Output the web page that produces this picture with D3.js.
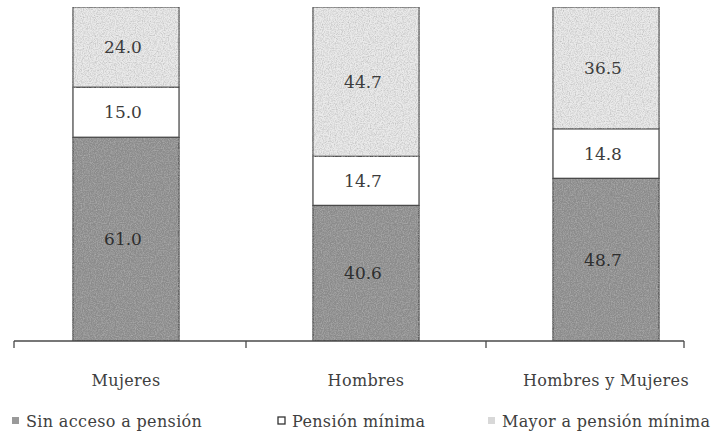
<!DOCTYPE html>
<html>
<head>
<meta charset="utf-8">
<script src="https://cdn.jsdelivr.net/npm/d3@7/dist/d3.min.js"></script>
<style>
  html, body { margin: 0; padding: 0; background: #ffffff; }
  svg { display: block; }
  text { font-family: "DejaVu Serif", serif; fill: #404040; }
</style>
</head>
<body>
<svg id="chart" width="724" height="431"></svg>
<script>
// Categories and the three stacked shares (percent of each group)
const categories = ["Mujeres", "Hombres", "Hombres y Mujeres"];
const seriesNames = ["Sin acceso a pensión", "Pensión mínima", "Mayor a pensión mínima"];
const sinAcceso = [61.0, 40.6, 48.7];
const pensionMinima = [15.0, 14.7, 14.8];
const mayorMinima = [24.0, 44.7, 36.5];
const seriesColors = ["#8b8b8b", "#ffffff", "#eaeaea"];

const svg = d3.select("#chart");

// Film-grain texture for the shaded segments
const defs = svg.append("defs");
const grain = defs.append("filter").attr("id", "grain")
  .attr("x", 0).attr("y", 0).attr("width", 1).attr("height", 1);
grain.append("feTurbulence").attr("type", "fractalNoise")
  .attr("baseFrequency", 0.85).attr("numOctaves", 2).attr("seed", 4).attr("result", "noise");
grain.append("feColorMatrix").attr("in", "noise").attr("type", "matrix")
  .attr("values", "0 0 0 0 0.45  0 0 0 0 0.45  0 0 0 0 0.45  0 0 0 -1.6 1.0")
  .attr("result", "specks");
grain.append("feComposite").attr("in", "specks").attr("in2", "SourceGraphic")
  .attr("operator", "in").attr("result", "specksIn");
grain.append("feMerge").selectAll("feMergeNode")
  .data(["SourceGraphic", "specksIn"]).join("feMergeNode").attr("in", d => d);

const x = d3.scaleBand()
  .domain(categories)
  .range([6, 726])
  .paddingInner(0.558)
  .paddingOuter(0.279);

const y = d3.scaleLinear().domain([0, 100]).range([341, 7]);

const rows = categories.map((c, i) => ({
  cat: c,
  "Sin acceso a pensión": sinAcceso[i],
  "Pensión mínima": pensionMinima[i],
  "Mayor a pensión mínima": mayorMinima[i]
}));
const stacked = d3.stack().keys(seriesNames)(rows);

const color = d3.scaleOrdinal().domain(seriesNames).range(seriesColors);

const layers = svg.append("g").selectAll("g")
  .data(stacked).join("g");

layers.selectAll("rect")
  .data(s => s.map(d => ({ key: s.key, d })))
  .join("rect")
  .attr("x", o => x(o.d.data.cat))
  .attr("width", x.bandwidth())
  .attr("y", o => y(o.d[1]))
  .attr("height", o => y(o.d[0]) - y(o.d[1]))
  .attr("fill", o => color(o.key))
  .attr("filter", o => o.key === "Pensión mínima" ? null : "url(#grain)")
  .attr("stroke", "#4a4a4a")
  .attr("stroke-width", 1.3);

// Value labels centred in each segment
layers.selectAll("text")
  .data(s => s.map(d => ({ key: s.key, d })))
  .join("text")
  .attr("x", o => x(o.d.data.cat) + x.bandwidth() / 2 - 3)
  .attr("y", o => (y(o.d[0]) + y(o.d[1])) / 2)
  .attr("dy", "0.36em")
  .attr("text-anchor", "middle")
  .attr("font-size", 17)
  .style("fill", o => o.key === "Sin acceso a pensión" ? "#2e2e2e" : "#3c3c3c")
  .text(o => (o.d[1] - o.d[0]).toFixed(1));

// Category axis: baseline with tick marks between groups
const axisLeft = 14, axisRight = 684;
const step = x.step();
const tickXs = [axisLeft]
  .concat(categories.slice(1).map(c => x(c) - x.paddingInner() * step / 2))
  .concat([axisRight]);
const axisG = svg.append("g");
axisG.append("line")
  .attr("x1", axisLeft).attr("x2", axisRight)
  .attr("y1", y(0)).attr("y2", y(0))
  .attr("stroke", "#4a4a4a").attr("stroke-width", 1.3);
axisG.selectAll("line.tick").data(tickXs).join("line")
  .attr("class", "tick")
  .attr("x1", d => d).attr("x2", d => d)
  .attr("y1", y(0)).attr("y2", y(0) + 7)
  .attr("stroke", "#4a4a4a").attr("stroke-width", 1.3);

axisG.selectAll("text").data(categories).join("text")
  .attr("x", d => x(d) + x.bandwidth() / 2)
  .attr("y", 380)
  .attr("dy", "0.35em")
  .attr("text-anchor", "middle")
  .attr("font-size", 16)
  .attr("letter-spacing", 0.35)
  .text(d => d);

// Legend
const legendX = [12, 278, 488];
const legend = svg.append("g").selectAll("g")
  .data(seriesNames).join("g")
  .attr("transform", (d, i) => `translate(${legendX[i]},421)`);
legend.append("rect")
  .attr("x", 0).attr("y", -4)
  .attr("width", 7).attr("height", 7)
  .attr("fill", (d, i) => i === 0 ? "#9a9a9a" : i === 1 ? "#ffffff" : "#d8d8d8")
  .attr("stroke", (d, i) => i === 1 ? "#333" : "none")
  .attr("stroke-width", 1.3);
legend.append("text")
  .attr("x", 14).attr("y", 0)
  .attr("dy", "0.35em")
  .attr("font-size", 16)
  .attr("letter-spacing", 0.35)
  .text(d => d);
</script>
</body>
</html>
